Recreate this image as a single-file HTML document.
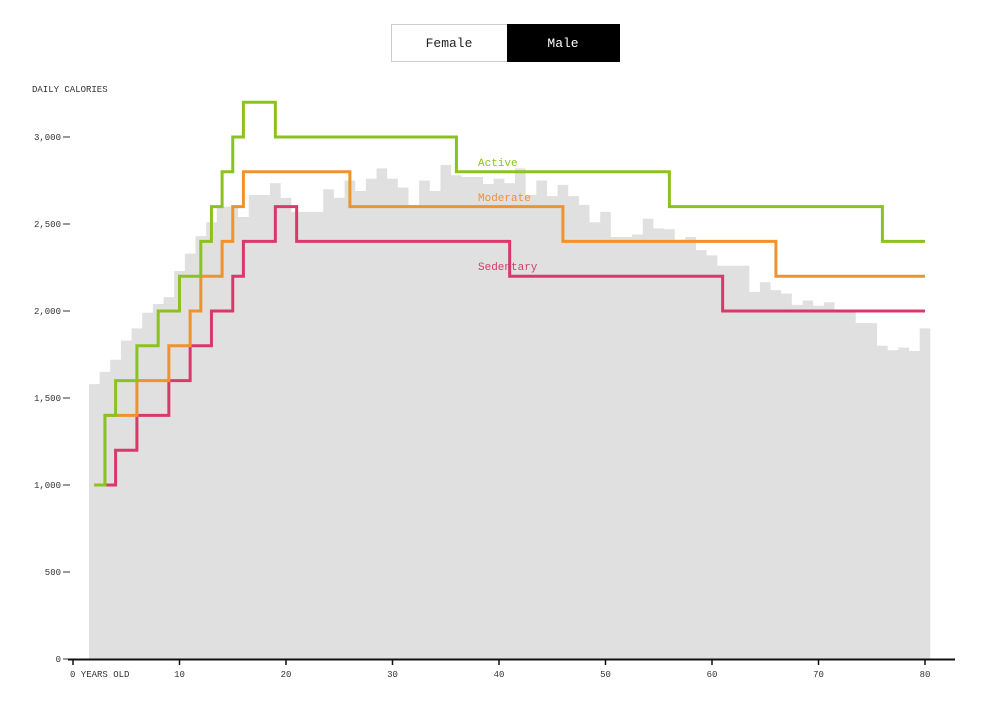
<!DOCTYPE html>
<html><head><meta charset="utf-8"><style>
body{margin:0;background:#fff;width:982px;height:726px;overflow:hidden;font-family:"Liberation Mono",monospace}
svg{position:absolute;left:0;top:0}
</style></head><body>
<svg id="s" width="982" height="726" xmlns="http://www.w3.org/2000/svg" font-family="Liberation Mono, monospace">
<rect x="391.5" y="24.5" width="116" height="37" fill="#fff" stroke="#ccc"/>
<rect x="507" y="24" width="113" height="38" fill="#000"/>
<text x="449" y="47" font-size="13" text-anchor="middle" fill="#222">Female</text>
<text x="563" y="47" font-size="13" text-anchor="middle" fill="#fff">Male</text>
<text x="32" y="92" font-size="9" fill="#333">DAILY CALORIES</text>
<g id="bars" fill="#e0e0e0"></g>
<g font-size="9" fill="#333" text-anchor="end">
<text x="61" y="662">0</text><text x="61" y="575">500</text><text x="61" y="488">1,000</text><text x="61" y="401">1,500</text><text x="61" y="314">2,000</text><text x="61" y="227">2,500</text><text x="61" y="140">3,000</text>
</g>
<g stroke="#333" stroke-width="1">
<line x1="63" y1="659" x2="70" y2="659"/><line x1="63" y1="572" x2="70" y2="572"/><line x1="63" y1="485" x2="70" y2="485"/><line x1="63" y1="398" x2="70" y2="398"/><line x1="63" y1="311" x2="70" y2="311"/><line x1="63" y1="224" x2="70" y2="224"/><line x1="63" y1="137" x2="70" y2="137"/>
</g>
<line x1="68" y1="659.5" x2="955" y2="659.5" stroke="#111" stroke-width="2"/>
<g id="xt" stroke="#111" stroke-width="1.5"></g>
<g font-size="9" fill="#333" id="xl"></g>
<g fill="none" stroke-width="3">
<path id="sed" stroke="#d9396a"/><path id="mod" stroke="#f0922e"/><path id="act" stroke="#8cc21f"/>
</g>
<text x="478" y="166" font-size="11" fill="#8cc21f">Active</text>
<text x="478" y="201" font-size="11" fill="#f0922e">Moderate</text>
<text x="478" y="270" font-size="11" fill="#d9396a">Sedentary</text>
</svg>
<script>
var X=a=>73+a*10.65, Y=v=>659-v*0.174, NS="http://www.w3.org/2000/svg";
var v={2:1580,3:1650,4:1720,5:1830,6:1900,7:1990,8:2040,9:2080,10:2230,11:2330,12:2430,13:2510,14:2600,15:2600,16:2540,17:2667,18:2667,19:2735,20:2650,21:2570,22:2570,23:2570,24:2700,25:2650,26:2750,27:2690,28:2760,29:2820,30:2760,31:2710,32:2610,33:2750,34:2690,35:2840,36:2780,37:2770,38:2770,39:2730,40:2760,41:2735,42:2820,43:2667,44:2750,45:2660,46:2725,47:2660,48:2610,49:2510,50:2570,51:2425,52:2425,53:2440,54:2530,55:2475,56:2470,57:2410,58:2425,59:2350,60:2320,61:2260,62:2260,63:2260,64:2110,65:2165,66:2120,67:2100,68:2035,69:2060,70:2030,71:2050,72:2005,73:2000,74:1930,75:1930,76:1800,77:1775,78:1790,79:1770,80:1900};
var d="M"+X(1.5)+" 659";
for(var a=2;a<=80;a++){d+=" V"+Y(v[a])+" H"+X(a+0.5);}
d+=" V659 Z";
var p=document.createElementNS(NS,"path");p.setAttribute("d",d);document.getElementById("bars").appendChild(p);
for(var t=0;t<=80;t+=10){var l=document.createElementNS(NS,"line");l.setAttribute("x1",X(t));l.setAttribute("x2",X(t));l.setAttribute("y1",659);l.setAttribute("y2",665);document.getElementById("xt").appendChild(l);
var tx=document.createElementNS(NS,"text");tx.setAttribute("x",t==0?X(0)-3:X(t));tx.setAttribute("y",677);if(t)tx.setAttribute("text-anchor","middle");tx.textContent=t==0?"0 YEARS OLD":t;document.getElementById("xl").appendChild(tx);}
function step(id,s){var d="M"+X(2)+" "+Y(s[0][1]);for(var i=1;i<s.length;i++){d+=" H"+X(s[i][0])+" V"+Y(s[i][1]);}d+=" H"+X(80);document.getElementById(id).setAttribute("d",d);}
step("act",[[2,1000],[3,1400],[4,1600],[6,1800],[8,2000],[10,2200],[12,2400],[13,2600],[14,2800],[15,3000],[16,3200],[19,3000],[36,2800],[56,2600],[76,2400]]);
step("mod",[[2,1000],[3,1400],[6,1600],[9,1800],[11,2000],[12,2200],[14,2400],[15,2600],[16,2800],[26,2600],[46,2400],[66,2200]]);
step("sed",[[2,1000],[4,1200],[6,1400],[9,1600],[11,1800],[13,2000],[15,2200],[16,2400],[19,2600],[21,2400],[41,2200],[61,2000]]);
</script>
</body></html>
